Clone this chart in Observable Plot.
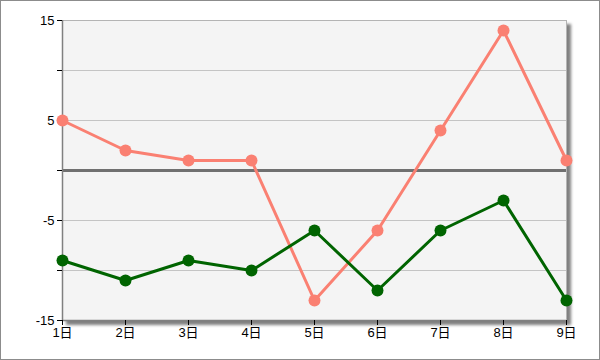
<!DOCTYPE html>
<html>
<head>
<meta charset="utf-8">
<script src="https://cdn.jsdelivr.net/npm/d3@7"></script>
<script src="https://cdn.jsdelivr.net/npm/@observablehq/plot@0.6"></script>
<style>
  html, body { margin: 0; padding: 0; background: #fff; }
  #box { width: 600px; height: 360px; box-sizing: border-box; border: 1px solid #8c8c8c; background: #fff; overflow: hidden; }
</style>
</head>
<body>
<div id="box"></div>
<script>
const days = [1, 2, 3, 4, 5, 6, 7, 8, 9];
const dayLabels = ["1日", "2日", "3日", "4日", "5日", "6日", "7日", "8日", "9日"];
const seriesA = [5, 2, 1, 1, -13, -6, 4, 14, 1];
const seriesB = [-9, -11, -9, -10, -6, -12, -6, -3, -13];
const yTicks = [-15, -10, -5, 0, 5, 10, 15];
const yLabeled = [-15, -5, 5, 15];
const gridLines = [-10, -5, 5, 10];

const rowsA = days.map((d, i) => ({day: d, v: seriesA[i]}));
const rowsB = days.map((d, i) => ({day: d, v: seriesB[i]}));

const chart = Plot.plot({
  width: 598,
  height: 358,
  marginLeft: 61,
  marginTop: 19,
  marginRight: 33,
  marginBottom: 39,
  style: {fontFamily: "'Liberation Sans', 'Noto Sans CJK JP', sans-serif", fontSize: "13px", color: "#000", background: "#fff"},
  x: {type: "linear", domain: [1, 9], axis: null, label: null},
  y: {domain: [-15, 15], axis: null, label: null},
  marks: [
    Plot.frame({fill: "#f4f4f4", stroke: "#b4b4b4"}),
    Plot.ruleY(gridLines, {stroke: "#c4c4c4", strokeWidth: 1}),
    Plot.ruleY([0], {stroke: "#707070", strokeWidth: 3}),
    Plot.ruleX([1], {stroke: "#808080", strokeWidth: 1.5}),
    Plot.ruleY([-15], {stroke: "#808080", strokeWidth: 1.5}),
    Plot.axisY({ticks: yTicks, label: null, tickSize: 5, tickPadding: 3, tickFormat: d => yLabeled.includes(d) ? String(d) : "", stroke: "#000", fill: "#000"}),
    Plot.axisX({ticks: days, label: null, tickSize: 5, tickPadding: 2, tickFormat: (d) => dayLabels[days.indexOf(d)], stroke: "#000", fill: "#000"}),
    Plot.line(rowsA, {x: "day", y: "v", stroke: "#fa8072", strokeWidth: 3}),
    Plot.dot(rowsA, {x: "day", y: "v", r: 6, fill: "#fa8072", stroke: "none"}),
    Plot.line(rowsB, {x: "day", y: "v", stroke: "#006400", strokeWidth: 3}),
    Plot.dot(rowsB, {x: "day", y: "v", r: 6, fill: "#006400", stroke: "none"})
  ]
});

const frame = chart.querySelector('[aria-label="frame"]');
if (frame) frame.style.filter = "drop-shadow(4px 4px 1.5px rgba(0,0,0,0.5))";
document.getElementById("box").appendChild(chart);
</script>
</body>
</html>
